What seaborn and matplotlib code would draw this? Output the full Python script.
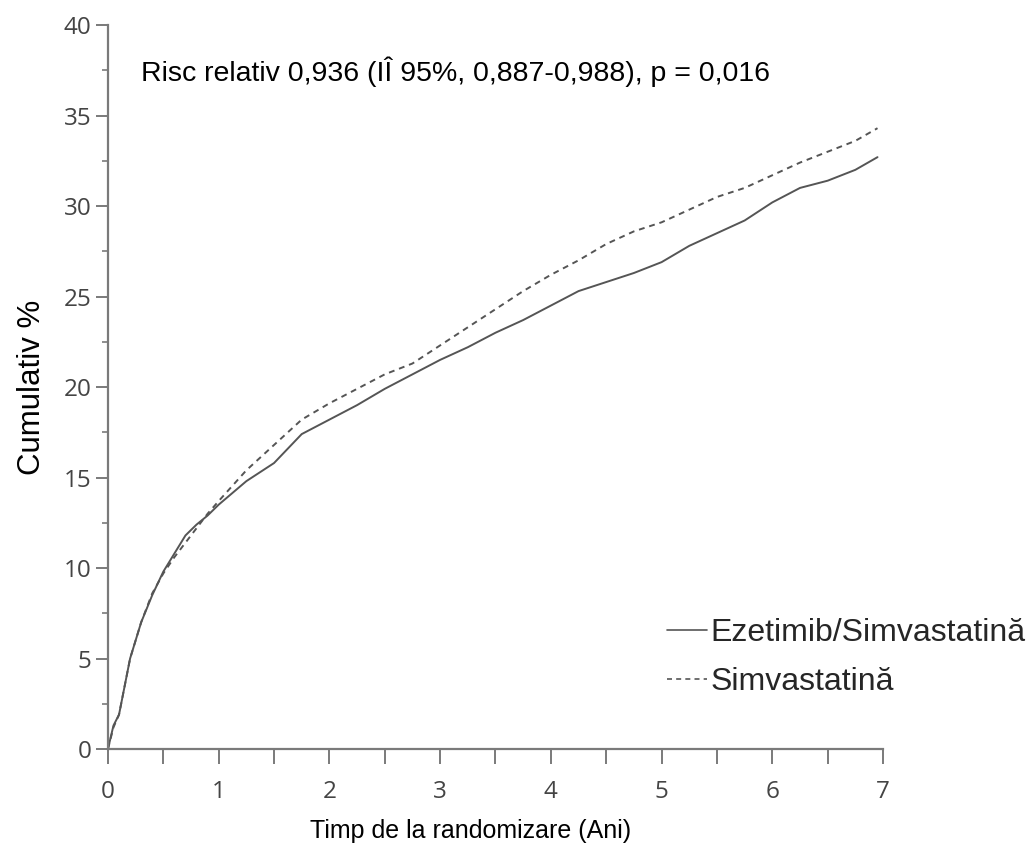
import numpy as np
import pandas as pd
import matplotlib
matplotlib.use("Agg")
import matplotlib.pyplot as plt
import seaborn as sns
from matplotlib.ticker import MultipleLocator
from matplotlib.lines import Line2D

years = [0, 0.05, 0.1, 0.2, 0.3, 0.4, 0.5, 0.6, 0.7, 0.8, 0.9, 1.0, 1.25, 1.5, 1.75,
         2.0, 2.25, 2.5, 2.75, 3.0, 3.25, 3.5, 3.75, 4.0, 4.25, 4.5, 4.75, 5.0,
         5.25, 5.5, 5.75, 6.0, 6.25, 6.5, 6.75, 6.95]
ezetimib_simva = [0, 1.3, 1.9, 5.0, 7.0, 8.5, 9.8, 10.8, 11.8, 12.4, 12.9, 13.5, 14.8,
                  15.8, 17.4, 18.2, 19.0, 19.9, 20.7, 21.5, 22.2, 23.0, 23.7, 24.5,
                  25.3, 25.8, 26.3, 26.9, 27.8, 28.5, 29.2, 30.2, 31.0, 31.4, 32.0, 32.7]
simva = [0, 1.2, 1.9, 5.0, 7.0, 8.6, 9.7, 10.6, 11.4, 12.2, 13.0, 13.7, 15.4, 16.8,
         18.2, 19.1, 19.9, 20.7, 21.3, 22.3, 23.3, 24.3, 25.3, 26.2, 27.0, 27.9,
         28.6, 29.1, 29.8, 30.5, 31.0, 31.7, 32.4, 33.0, 33.6, 34.3]
series_names = ["Ezetimib/Simvastatină", "Simvastatină"]

df = pd.concat([
    pd.DataFrame({"x": years, "y": ezetimib_simva, "grup": series_names[0]}),
    pd.DataFrame({"x": years, "y": simva, "grup": series_names[1]}),
])

sns.set_style("ticks")
plt.rcParams["font.family"] = ["Liberation Sans", "DejaVu Sans"]

fig = plt.figure(figsize=(10.28, 8.48), dpi=100)
ax = fig.add_axes([0.105, 0.1167, 0.754, 0.8538])

line_color = "#555555"
sns.lineplot(data=df, x="x", y="y", hue="grup", style="grup",
             palette=[line_color, line_color],
             dashes={series_names[0]: "", series_names[1]: (3, 2.5)},
             linewidth=1.4, ax=ax, legend=False)

ax.set_xlim(0, 7)
ax.set_ylim(0, 40)
ax.xaxis.set_major_locator(MultipleLocator(1))
ax.xaxis.set_minor_locator(MultipleLocator(0.5))
ax.yaxis.set_major_locator(MultipleLocator(5))
ax.yaxis.set_minor_locator(MultipleLocator(2.5))

spine_c = "#7a7a7a"
for s in ["top", "right"]:
    ax.spines[s].set_visible(False)
for s in ["left", "bottom"]:
    ax.spines[s].set_color(spine_c)
    ax.spines[s].set_linewidth(1.6)

ax.tick_params(axis="x", which="both", length=11, width=1.4, color=spine_c,
               direction="out", pad=11, labelsize=17.5, labelcolor="#444444")
ax.tick_params(axis="y", which="major", length=9, width=1.4, color=spine_c,
               direction="out", pad=3, labelsize=17.5, labelcolor="#444444")
ax.tick_params(axis="y", which="minor", length=4, width=1.2, color=spine_c,
               direction="out")

ax.set_xlabel("Timp de la randomizare (Ani)", fontsize=18, color="black")
ax.xaxis.set_label_coords(0.468, -0.097)
ax.set_ylabel("Cumulativ %", fontsize=22.5, color="black", labelpad=12)

ax.text(0.3, 37.4, "Risc relativ 0,936 (IÎ 95%, 0,887-0,988), p = 0,016",
        fontsize=20.5, color="black", va="center", ha="left")

handles = [
    Line2D([], [], color=line_color, lw=1.2),
    Line2D([], [], color=line_color, lw=1.2, dashes=(3, 2.5)),
]
fig.legend(handles, series_names, loc="upper left", bbox_to_anchor=(0.649, 0.271),
           frameon=False, fontsize=23, handlelength=1.25, handletextpad=0.1,
           labelspacing=0.58, borderaxespad=0, borderpad=0)

fig.canvas.draw()
for lab in ax.get_xticklabels() + ax.get_yticklabels():
    lab.set_fontfamily(["Open Sans", "DejaVu Sans"])

fig.savefig("out.png", dpi=100, facecolor="white")
